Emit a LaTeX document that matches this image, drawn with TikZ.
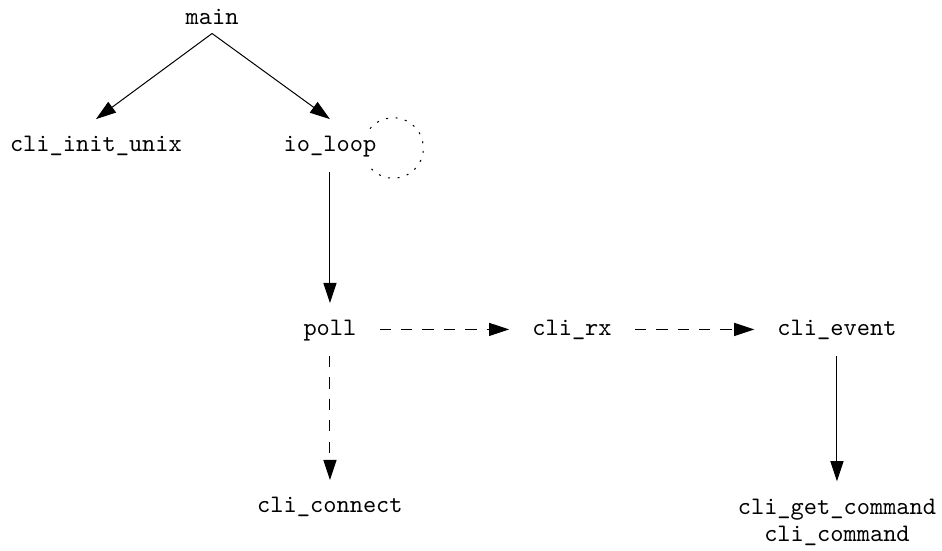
\documentclass[tikz,border=0pt]{standalone}
\usepackage{tikz}
\usetikzlibrary{arrows.meta, positioning}
\tikzstyle{func} = [rectangle, font=\ttfamily, text height=7pt, text depth=2pt, inner xsep=9pt, inner ysep=5.8pt]
\tikzstyle{arrow} = [->, >={Triangle[length=8pt, width=5.2pt]}]
\tikzstyle{callback} = [arrow, dash pattern=on 4.5pt off 4pt]
\tikzstyle{looppath} = [dash pattern=on 0.8pt off 3pt]

\begin{document}
\begin{tikzpicture}[on grid, auto]

        % Arranque
        \node (main) [func] {main};
        \node (ioloop) [func, below right=50.4pt and 46.8pt of main] {io\_loop};
        \node (cliinit) [func, left=92.9pt of ioloop] {cli\_init\_unix};

        % Bucle de eventos
        \node (poll) [func, below=73pt of ioloop] {poll};
        \node (clirx) [func, right=96.1pt of poll] {cli\_rx};
        \node (clievent) [func, right=105.2pt of clirx] {cli\_event};

        % Destinos finales
        \node (cliconnect) [func, below=70.3pt of poll] {cli\_connect};
        \node (cligetcmd) [func, align=center, text height=18pt, below=76.3pt of clievent] {cli\_get\_command\\[-1pt]cli\_command};

        % Llamadas directas
        \draw [arrow] ([yshift=4.6pt]main.south) -- (cliinit.north);
        \draw [arrow] ([yshift=4.6pt]main.south) -- (ioloop.north);
        \draw [arrow] (ioloop) -- (poll);
        \draw [arrow] (clievent) -- (cligetcmd);

        % Llamadas por callback
        \draw [callback] (poll) -- (clirx);
        \draw [callback] (clirx) -- (clievent);
        \draw [callback] (poll) -- (cliconnect);

        % io_loop se repite
        \draw [looppath] ([shift={(15.9pt,6.75pt)}]ioloop.center) arc [start angle=140, end angle=-140, radius=12pt];

        \pgfresetboundingbox
        \useasboundingbox ([shift={(-84.2pt,7.4pt)}]main.center) rectangle ([shift={(289.8pt,-211.3pt)}]main.center);

    \end{tikzpicture}
\end{document}
